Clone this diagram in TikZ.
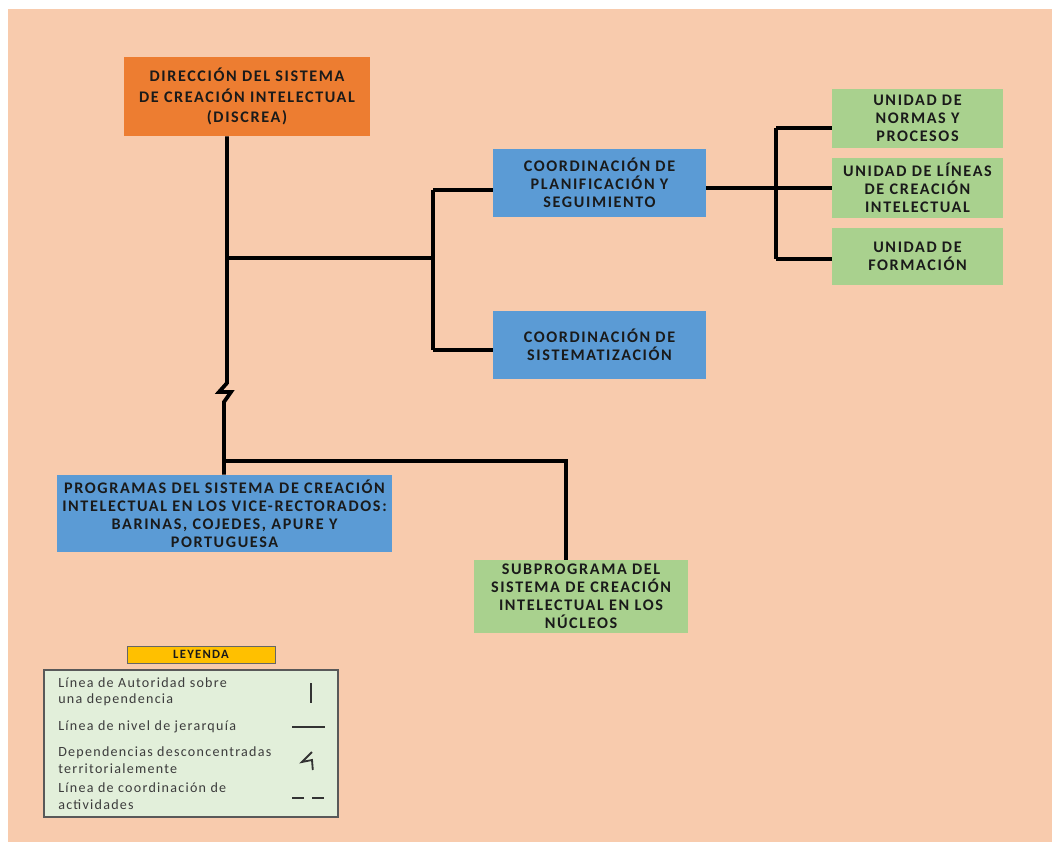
\documentclass[tikz,border=0pt]{standalone}
\usepackage{fontspec}
\setmainfont{Carlito}
\newfontfamily\orgfont{Carlito}[LetterSpace=10]
\newfontfamily\keyfont{Carlito}[LetterSpace=9]
\usetikzlibrary{positioning,calc}
\definecolor{paperpeach}{HTML}{F8CBAD}
\definecolor{dirorange}{HTML}{ED7D31}
\definecolor{coordblue}{HTML}{5B9BD5}
\definecolor{unitgreen}{HTML}{A9D18E}
\definecolor{legendgreen}{HTML}{E2EFDA}
\definecolor{legendyellow}{HTML}{FFC000}
\definecolor{inkdark}{HTML}{1A1A1A}
\tikzset{
  orgbox/.style={
    align=center,
    inner sep=2pt,
    text=inkdark,
    font=\orgfont\bfseries\fontsize{11.5}{12.9}\selectfont
  },
  dirbox/.style={orgbox, fill=dirorange, minimum width=6.15cm, minimum height=1.975cm,
    font=\orgfont\bfseries\fontsize{11.5}{14.8}\selectfont},
  coordbox/.style={orgbox, fill=coordblue, minimum width=5.325cm, minimum height=1.7cm},
  unitbox/.style={orgbox, fill=unitgreen, minimum width=4.275cm},
  legendtext/.style={anchor=west, align=left, inner sep=0pt, text=inkdark!85,
    font=\keyfont\fontsize{10}{11.8}\selectfont},
  orgline/.style={line width=2.7pt, draw=black},
  keyline/.style={line width=1pt, draw=black!80}
}
\begin{document}
\begin{tikzpicture}
\useasboundingbox (0,0) rectangle (26.3,-21.05);
\fill[white] (0,0) rectangle (26.3,-21.05);
\fill[paperpeach] (0.2,-0.225) rectangle (26.3,-21.05);

% boxes
\node[dirbox] (dir) at (6.175,-2.4125) {DIRECCIÓN DEL SISTEMA\\DE CREACIÓN INTELECTUAL\\(DISCREA)};
\node[coordbox] (plan) at (14.9875,-4.575) {COORDINACIÓN DE\\PLANIFICACIÓN Y\\SEGUIMIENTO};
\node[coordbox] (sist) at (14.9875,-8.625) {COORDINACIÓN DE\\SISTEMATIZACIÓN};
\node[unitbox, minimum height=1.475cm] (norm) at (22.9375,-2.9625) {UNIDAD DE\\NORMAS Y\\PROCESOS};
\node[unitbox, minimum height=1.5cm] (lineas) at (22.9375,-4.7) {UNIDAD DE LÍNEAS\\DE CREACIÓN\\INTELECTUAL};
\node[unitbox, minimum height=1.425cm] (form) at (22.9375,-6.4125) {UNIDAD DE\\FORMACIÓN};
\node[coordbox, minimum width=8.375cm, minimum height=1.925cm] (prog) at (5.6125,-12.8375)
  {PROGRAMAS DEL SISTEMA DE CREACIÓN\\INTELECTUAL EN LOS VICE-RECTORADOS:\\BARINAS, COJEDES, APURE Y\\PORTUGUESA};
\node[unitbox, minimum width=5.35cm, minimum height=1.825cm] (sub) at (14.525,-14.9125)
  {SUBPROGRAMA DEL\\SISTEMA DE CREACIÓN\\INTELECTUAL EN LOS\\NÚCLEOS};

% junctions
\coordinate (jdir) at (5.675,-6.45);
\coordinate (jcoord) at (10.825,-6.45);
\coordinate (jplan) at (10.825,-4.75);
\coordinate (jsist) at (10.825,-8.75);
\coordinate (bolt) at (5.675,-9.575);
\coordinate (jprog) at (5.6,-11.525);
\coordinate (jsub) at (14.15,-11.525);
\coordinate (junit) at (19.4,-4.7);
\coordinate (jnorm) at (19.4,-3.2);
\coordinate (jform) at (19.4,-6.475);

% connectors
\draw[orgline] (dir.south -| jdir) -- (bolt) -- ++(-0.2,-0.225) -- ++(0.3,0) -- ++(-0.175,-0.25) -- (jprog) -- (prog.north -| jprog);
\draw[orgline] (jdir) -- (jcoord);
\draw[orgline] (jplan) -- (jsist);
\draw[orgline] (jplan) -- (jplan -| plan.west);
\draw[orgline] (jsist) -- (jsist -| sist.west);
\draw[orgline] (jprog) -- (jsub) -- (sub.north -| jsub);
\draw[orgline] (plan.east |- junit) -- (junit);
\draw[orgline] (jnorm) -- (jform);
\draw[orgline] (jnorm) -- (jnorm -| norm.west);
\draw[orgline] (junit) -- (junit -| lineas.west);
\draw[orgline] (jform) -- (jform -| form.west);

% legend
\node[fill=legendyellow, draw=black!60, minimum width=3.7cm, minimum height=0.425cm, inner sep=0pt,
  font=\orgfont\bfseries\fontsize{9}{10}\selectfont, text=inkdark] (leyenda) at (5.025,-16.3625) {LEYENDA};
\node[fill=legendgreen, draw=black!65, line width=0.8pt, minimum width=7.35cm, minimum height=3.675cm] (key) at (4.775,-18.5875) {};
\node[legendtext] (kauth) at (1.45,-17.29) {Línea de Autoridad sobre\\una dependencia};
\node[legendtext] (klevel) at (1.45,-18.175) {Línea de nivel de jerarquía};
\node[legendtext] (kterr) at (1.45,-19.0) {Dependencias desconcentradas\\territorialemente};
\node[legendtext] (kcoord) at (1.45,-19.9) {Línea de coordinación de\\actividades};
\draw[keyline, line width=1.5pt] (7.775,-17.075) -- (7.775,-17.575);
\draw[keyline] (7.3,-18.175) -- (8.125,-18.175);
\draw[keyline, line width=1.3pt] (7.8,-18.8) -- (7.55,-19.05) -- (7.8,-19.0) -- (7.82,-19.25);
\draw[keyline, dash pattern=on 0.3cm off 0.2cm] (7.3,-19.95) -- (8.125,-19.95);
\end{tikzpicture}
\end{document}
